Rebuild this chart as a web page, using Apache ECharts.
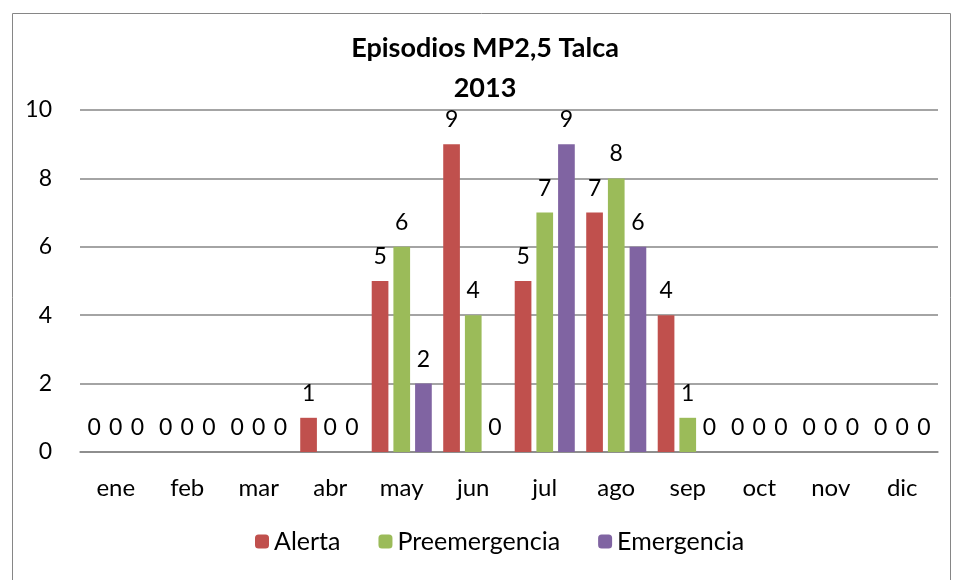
<!DOCTYPE html>
<html>
<head>
<meta charset="utf-8">
<script src="https://cdn.jsdelivr.net/npm/echarts@6/dist/echarts.min.js"></script>
<style>
  html, body { margin: 0; padding: 0; background: #fff; }
  #chart { width: 956px; height: 580px; }
</style>
</head>
<body>
<div id="chart"></div>
<script>
// datos
const meses = ["ene", "feb", "mar", "abr", "may", "jun", "jul", "ago", "sep", "oct", "nov", "dic"];
const alerta = [0, 0, 0, 1, 5, 9, 5, 7, 4, 0, 0, 0];
const preemergencia = [0, 0, 0, 0, 6, 4, 7, 8, 1, 0, 0, 0];
const emergencia = [0, 0, 0, 0, 2, 0, 9, 6, 0, 0, 0, 0];
const yTicks = [0, 2, 4, 6, 8, 10];

const fuente = "Lato, 'Open Sans', sans-serif";
const chart = echarts.init(document.getElementById("chart"));

function serie(nombre, datos, color) {
    return {
        name: nombre,
        type: "bar",
        data: datos,
        barGap: "30%",
        barCategoryGap: "16%",
        itemStyle: {color: color},
        label: {
            show: true,
            position: "top",
            distance: 13,
            color: "#000",
            fontFamily: fuente,
            fontSize: 23
        }
    };
}

chart.setOption({
    backgroundColor: "#fff",
    animation: false,
    graphic: [{
        type: "rect",
        shape: {x: 12.5, y: 13.5, width: 938, height: 580},
        style: {fill: "none", stroke: "#868686", lineWidth: 1}
    }],
    title: {
        text: "Episodios MP2,5 Talca\n2013",
        left: 480,
        textAlign: "center",
        top: 23,
        textStyle: {
            fontFamily: fuente,
            fontWeight: "bold",
            fontSize: 27,
            lineHeight: 40,
            color: "#000"
        }
    },
    legend: {
        bottom: 21,
        left: 250,
        itemWidth: 14,
        itemHeight: 14,
        itemGap: 38,
        textStyle: {fontFamily: fuente, fontSize: 25, color: "#000"},
        data: ["Alerta", "Preemergencia", "Emergencia"]
    },
    grid: {left: 80, right: 18, top: 110, bottom: 128, containLabel: false},
    xAxis: {
        type: "category",
        data: meses,
        axisTick: {show: false},
        axisLine: {lineStyle: {color: "#868686", width: 1.5}},
        axisLabel: {color: "#000", fontFamily: fuente, fontSize: 24, margin: 24}
    },
    yAxis: {
        type: "value",
        min: yTicks[0],
        max: yTicks[yTicks.length - 1],
        interval: 2,
        axisLine: {show: false},
        axisTick: {show: false},
        splitLine: {lineStyle: {color: "#868686", width: 1.5}},
        axisLabel: {color: "#000", fontFamily: fuente, fontSize: 23, margin: 28}
    },
    series: [
        serie("Alerta", alerta, "#C0504D"),
        serie("Preemergencia", preemergencia, "#9BBB59"),
        serie("Emergencia", emergencia, "#8064A2")
    ]
});
</script>
</body>
</html>
